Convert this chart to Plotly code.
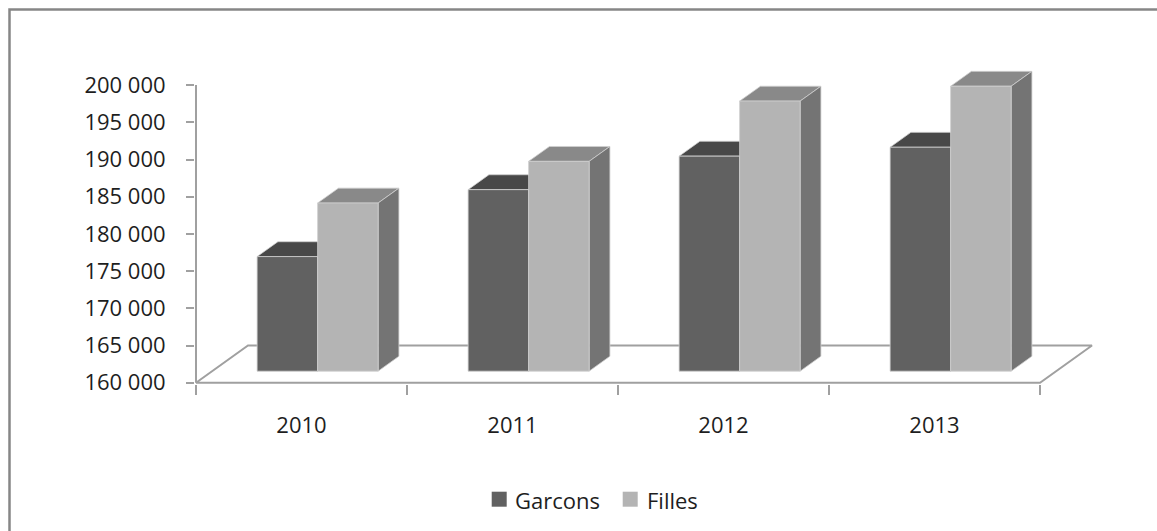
import plotly.graph_objects as go

# ---- data -------------------------------------------------------------
years = ["2010", "2011", "2012", "2013"]
series_names = ["Garcons", "Filles"]
garcons = [175400, 184400, 188900, 190100]
filles = [182600, 188200, 196300, 198300]
y_ticks = [160000, 165000, 170000, 175000, 180000, 185000, 190000, 195000, 200000]
y_tick_labels = ["160 000", "165 000", "170 000", "175 000", "180 000",
                 "185 000", "190 000", "195 000", "200 000"]

# ---- styling ----------------------------------------------------------
FONT = "Open Sans"
TEXT = "#1e1e1e"
AXIS = "#a0a0a0"
EDGE = "#cfcfcf"
front_col = ["#616161", "#b4b4b4"]
top_col = ["#484848", "#898989"]
side_col = ["#545454", "#747474"]

W, H = 1157, 531
# plot area in pixels
PL, PR, PT, PB = 195, 1105, 60, 384
# pixel anchors of the scales
X0_PX, UX = 196.0, 211.0          # x = -0.5 at 196 px, 211 px per category
Y0_PX, UY = 382.7, 0.00744        # y = 160000 at 382.7 px, px per unit
BASE = 160000

x_range = [-0.5 - (X0_PX - PL) / UX, -0.5 + (PR - X0_PX) / UX]
y_range = [BASE - (PB - Y0_PX) / UY, BASE + (Y0_PX - PT) / UY]

# oblique depth of the floor (category units / value units)
DX, DY = 52.0 / UX, 5000.0
BAR_W = 60.5 / UX                 # width of one bar
F_FRONT, F_DEPTH = 0.31, 0.40     # bar placement inside the depth

fig = go.Figure()

# floor of the 3-D plot
n = len(years)
fig.add_trace(go.Scatter(
    x=[-0.5, n - 0.5, n - 0.5 + DX, -0.5 + DX, -0.5],
    y=[BASE, BASE, BASE + DY, BASE + DY, BASE],
    mode="lines", fill="toself", fillcolor="white",
    line=dict(color=AXIS, width=2), hoverinfo="skip", showlegend=False))


def faces(values, s):
    tops_x, tops_y, sides_x, sides_y, fr_x, fr_y = [], [], [], [], [], []
    d, dd = F_DEPTH * DX, F_DEPTH * DY
    for i, v in enumerate(values):
        x0 = i + F_FRONT * DX - BAR_W + s * BAR_W
        x1 = x0 + BAR_W
        y0 = BASE + F_FRONT * DY
        y1 = v + F_FRONT * DY
        fr_x += [x0, x1, x1, x0, x0, None]
        fr_y += [y0, y0, y1, y1, y0, None]
        tops_x += [x0, x1, x1 + d, x0 + d, x0, None]
        tops_y += [y1, y1, y1 + dd, y1 + dd, y1, None]
        sides_x += [x1, x1 + d, x1 + d, x1, x1, None]
        sides_y += [y0, y0 + dd, y1 + dd, y1, y0, None]
    return (tops_x, tops_y), (sides_x, sides_y), (fr_x, fr_y)


for s, (name, vals) in enumerate(zip(series_names, [garcons, filles])):
    top, side, front = faces(vals, s)
    for (px, py), col in [(top, top_col[s]), (side, side_col[s]), (front, front_col[s])]:
        fig.add_trace(go.Scatter(
            x=px, y=py, mode="lines", fill="toself", fillcolor=col,
            line=dict(color=EDGE, width=0.8), name=name,
            hoverinfo="skip", showlegend=False))


def px_to_paper(px, py):
    return (px - PL) / (PR - PL), (PB - py) / (PB - PT)


shapes = []
# vertical value axis line
shapes.append(dict(type="line", xref="x", yref="y", x0=-0.5, x1=-0.5,
                   y0=BASE, y1=y_ticks[-1], line=dict(color=AXIS, width=2)))
# outer chart border
bx0, by0 = px_to_paper(9.5, 9.5)
bx1, by1 = px_to_paper(W + 20, H + 20)
shapes.append(dict(type="rect", xref="paper", yref="paper", x0=bx0, x1=bx1,
                   y0=by1, y1=by0, line=dict(color="#868686", width=2.5),
                   fillcolor="rgba(0,0,0,0)"))

# legend swatches and labels
annotations = []
legend_items = [(491.7, 512.7), (622.7, 645.0)]
for (sx, tx), name, col in zip(legend_items, series_names, front_col):
    ax0, ay0 = px_to_paper(sx, 491.7)
    ax1, ay1 = px_to_paper(sx + 15, 506.7)
    shapes.append(dict(type="rect", xref="paper", yref="paper", x0=ax0, x1=ax1,
                       y0=ay1, y1=ay0, line=dict(width=0), fillcolor=col))
    tx_p, ty_p = px_to_paper(tx, 499.5)
    annotations.append(dict(xref="paper", yref="paper", x=tx_p, y=ty_p,
                            xanchor="left", yanchor="middle", showarrow=False,
                            text=name, font=dict(family=FONT, size=22, color=TEXT)))

fig.update_layout(
    width=W, height=H,
    margin=dict(l=PL, r=W - PR, t=PT, b=H - PB, pad=0),
    paper_bgcolor="white", plot_bgcolor="white",
    showlegend=False,
    shapes=shapes, annotations=annotations,
    xaxis=dict(range=x_range, showgrid=False, zeroline=False, showline=False,
               tickmode="array", tickvals=list(range(n)), ticktext=years,
               ticks="", ticklabelstandoff=26,
               tickfont=dict(family=FONT, size=22, color=TEXT),
               minor=dict(tickmode="array",
                          tickvals=[i - 0.5 for i in range(n + 1)],
                          ticks="outside", ticklen=10, tickwidth=2,
                          tickcolor=AXIS, showgrid=False),
               fixedrange=True),
    yaxis=dict(range=y_range, showgrid=False, zeroline=False, showline=False,
               tickmode="array", tickvals=y_ticks, ticktext=y_tick_labels,
               ticks="outside", ticklen=8, tickwidth=2, tickcolor=AXIS,
               ticklabelstandoff=16,
               tickfont=dict(family=FONT, size=22, color=TEXT),
               fixedrange=True),
)

fig.write_html("out.html")
